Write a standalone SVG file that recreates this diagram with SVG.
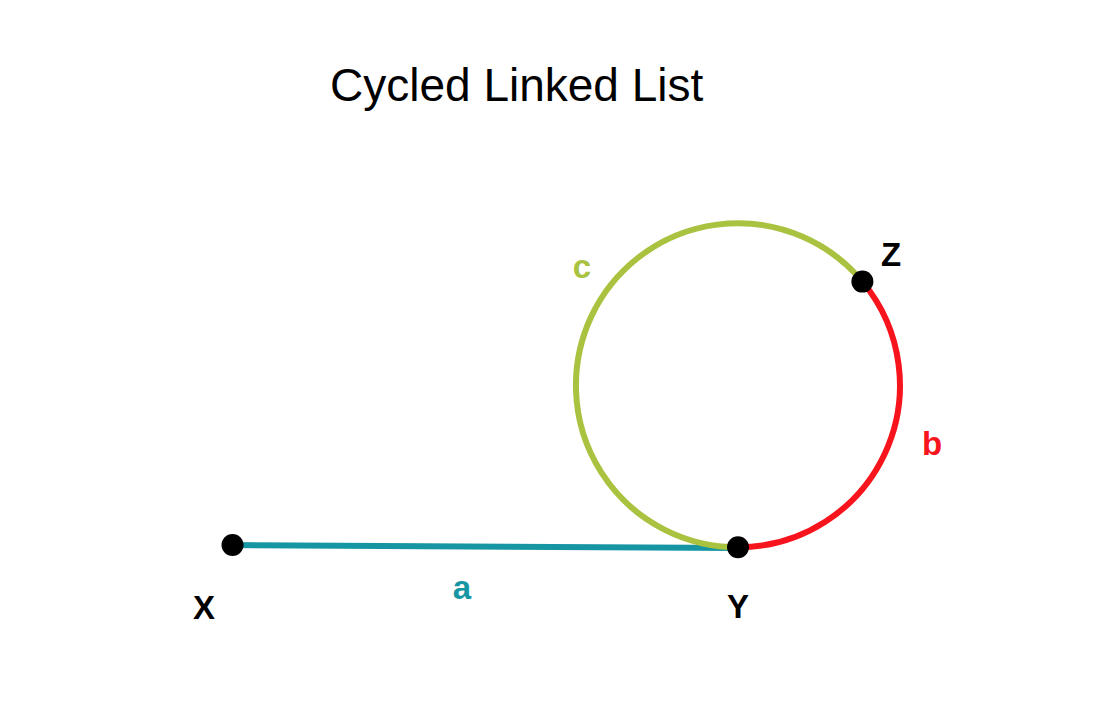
<svg xmlns="http://www.w3.org/2000/svg" width="1118" height="712" viewBox="0 0 1118 712">
  <style>
    .lbl { font-family: "Liberation Sans", Arial, sans-serif; font-weight: bold; font-size: 33px; text-anchor: middle; }
    .title { font-family: "Liberation Sans", Arial, sans-serif; font-size: 46px; fill: #000; }
    .seg { fill: none; stroke-width: 6; stroke-linecap: butt; }
    .dot { fill: #000; }
  </style>
  <rect width="1118" height="712" fill="#fff"/>
  <text class="title" x="330" y="101">Cycled Linked List</text>
  <g id="connectors">
    <line id="edge-a" class="seg" x1="232.5" y1="545" x2="738" y2="548" stroke="#1696a3"/>
    <path id="edge-c" class="seg" d="M738 547.3 A162 162 0 1 1 862.4 281.6" stroke="#a9c23f"/>
    <path id="edge-b" class="seg" d="M862.4 281.6 A162 162 0 0 1 738 547.3" stroke="#f8141c"/>
  </g>
  <g id="label-a"><text class="lbl" x="462" y="599" fill="#1696a3">a</text></g>
  <g id="label-b"><text class="lbl" x="932" y="455" fill="#f8141c">b</text></g>
  <g id="label-c"><text class="lbl" x="582" y="278" fill="#a9c23f">c</text></g>
  <g id="node-X">
    <circle class="dot" cx="232.5" cy="545" r="11"/>
    <text class="lbl" x="204" y="619" fill="#000">X</text>
  </g>
  <g id="node-Y">
    <circle class="dot" cx="738" cy="547.3" r="11"/>
    <text class="lbl" x="738" y="618" fill="#000">Y</text>
  </g>
  <g id="node-Z">
    <circle class="dot" cx="862.4" cy="281.6" r="11"/>
    <text class="lbl" x="891" y="266" fill="#000">Z</text>
  </g>
</svg>
